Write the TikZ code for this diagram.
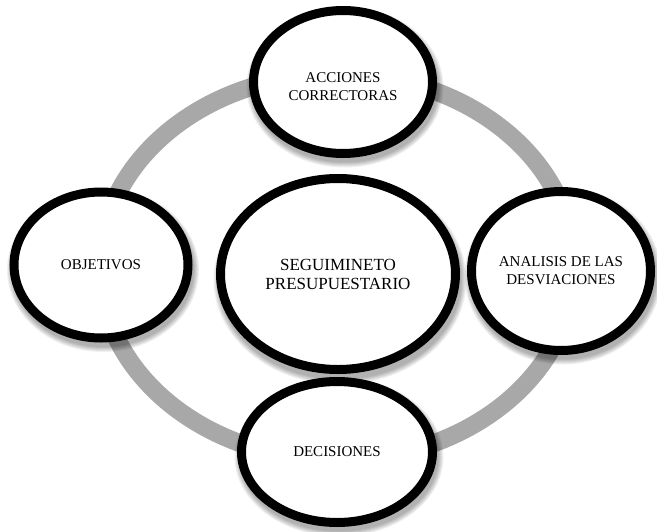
\documentclass[tikz,border=0pt]{standalone}
\usepackage{fontspec}
\setmainfont{Liberation Serif}
\usetikzlibrary{shapes.geometric}
\definecolor{ringgray}{RGB}{168,168,168}
\tikzset{
  bubble/.style={ellipse, draw=black, line width=9pt, fill=white, inner sep=0pt,
    align=center, font=\fontsize{15}{18}\selectfont},
  bigbubble/.style={bubble, font=\fontsize{17}{19}\selectfont},
  bubbletext/.style={align=center, inner sep=0pt, font=\fontsize{15}{18}\selectfont},
  ringline/.style={draw=ringgray, line width=18pt},
  shadowfill/.style={fill=black, opacity=0.06}
}
\newcommand{\softshadow}[4]{%
  \foreach \k in {1,...,6}{%
    \fill[shadowfill] (#1+2,#2+5) ellipse [x radius={#3+10-\k}, y radius={#4+10-\k}];
  }%
}
\begin{document}
\begin{tikzpicture}[x=1pt,y=-1pt]
  \useasboundingbox (0,0) rectangle (657,531);
  \clip (0,0) rectangle (657,531);
  % ring
  \coordinate (ringc) at (337,267);
  \draw[ringline] (ringc) ellipse [x radius=237, y radius=193];
  % shadows
  \softshadow{343}{82}{89.5}{71.5}
  \softshadow{101}{265}{87}{73}
  \softshadow{338}{275}{117.5}{95.5}
  \softshadow{561}{271}{89.5}{79.5}
  \softshadow{337}{452}{95.5}{70.5}
  % nodes
  \node[bubble, minimum width=179pt, minimum height=143pt] (acc) at (343,82) {};
  \node[bubbletext] (acct) at ([yshift=-5pt]acc.center) {ACCIONES\\CORRECTORAS};
  \node[bubble, minimum width=174pt, minimum height=146pt] (obj) at (101,265) {OBJETIVOS};
  \node[bubble, minimum width=179pt, minimum height=159pt] (ana) at (561,271) {ANALISIS DE LAS\\DESVIACIONES};
  \node[bubble, minimum width=191pt, minimum height=141pt] (dec) at (337,452) {DECISIONES};
  \node[bigbubble, minimum width=235pt, minimum height=191pt] (seg) at (338,274) {SEGUIMINETO\\PRESUPUESTARIO};
\end{tikzpicture}
\end{document}
